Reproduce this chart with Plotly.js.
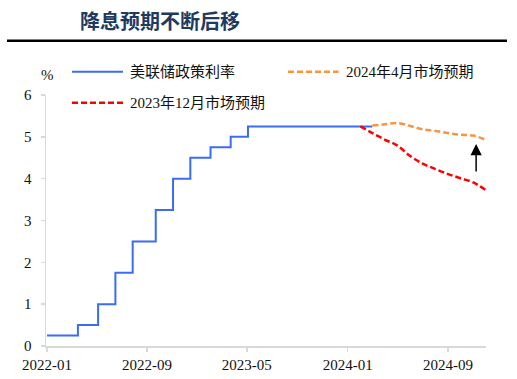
<!DOCTYPE html>
<html>
<head>
<meta charset="utf-8">
<script src="https://cdn.plot.ly/plotly-3.0.1.min.js"></script>
<style>html,body{margin:0;padding:0;background:#fff}#chart{width:517px;height:379px}</style>
</head>
<body>
<div id="chart"></div>
<script>
// Fed policy rate (step series)
const fedDates = ['2022-01-01','2022-03-17','2022-05-05','2022-06-16','2022-07-28','2022-09-22','2022-11-03','2022-12-15','2023-02-02','2023-03-23','2023-05-04','2024-03-01'];
const fedRate = [0.25,0.5,1.0,1.75,2.5,3.25,4.0,4.5,4.75,5.0,5.25,5.25];

// Market expectations as of Apr 2024
const apr24Dates = ['2024-03-01','2024-04-01','2024-05-01','2024-06-01','2024-07-01','2024-08-01','2024-09-01','2024-10-01','2024-11-01','2024-12-01'];
const apr24Exp = [5.27,5.30,5.33,5.26,5.18,5.14,5.09,5.05,5.03,4.93];

// Market expectations as of Dec 2023
const dec23Dates = ['2024-02-01','2024-03-01','2024-04-01','2024-05-01','2024-06-01','2024-07-01','2024-08-01','2024-09-01','2024-10-01','2024-11-01','2024-12-01'];
const dec23Exp = [5.25,5.09,4.93,4.79,4.54,4.36,4.23,4.11,4.01,3.91,3.73];

const seriesNames = ['美联储政策利率','2024年4月市场预期','2023年12月市场预期'];
const tickVals = ['2022-01-01','2022-09-01','2023-05-01','2024-01-01','2024-09-01'];
const tickText = ['2022-01','2022-09','2023-05','2024-01','2024-09'];
const titleText = '降息预期不断后移';

const serif = "'Liberation Serif','Times New Roman','Noto Sans CJK SC',serif";
const colors = ['#3b6cf4', '#fb9440', '#ff0000'];
const dashes = ['solid', '6px,3px', '6px,3px'];
const widths = [2, 2.5, 2.5];

const traces = [
  {x: fedDates, y: fedRate, name: seriesNames[0], type:'scatter', mode:'lines',
   line:{shape:'hv', color:colors[0], width:widths[0]}},
  {x: apr24Dates, y: apr24Exp, name: seriesNames[1], type:'scatter', mode:'lines',
   line:{shape:'spline', smoothing:1, color:colors[1], width:widths[1], dash:dashes[1]}},
  {x: dec23Dates, y: dec23Exp, name: seriesNames[2], type:'scatter', mode:'lines',
   line:{shape:'spline', smoothing:1, color:colors[2], width:widths[2], dash:dashes[2]}}
];

const L = 46, W = 440, T = 95, H = 250.7;
const px2paperX = p => (p - L) / W;
const px2paperY = p => (T + H - p) / H;

// manual legend (sample line + label), positions in pixels
const legendPos = [
  {x0: 72, x1: 123, y: 71.7, tx: 128},
  {x0: 288, x1: 338.5, y: 71.7, tx: 343.5},
  {x0: 72, x1: 123, y: 102.7, tx: 128}
];

const shapes = [
  {type:'line', xref:'paper', yref:'paper', x0: px2paperX(7), x1: px2paperX(507), y0: px2paperY(40.7), y1: px2paperY(40.7),
   line:{color:'#000', width:2.5}}
];
const annotations = [
  {text:'%', xref:'paper', yref:'paper', x: px2paperX(47.5), y: px2paperY(75), showarrow:false, xanchor:'center', yanchor:'middle',
   font:{family: serif, size:15, color:'#111'}},
  {text:'', xref:'x', yref:'y', x:'2024-11-08', y:4.83, ax:0, ay:29, axref:'pixel', ayref:'pixel',
   showarrow:true, arrowhead:2, arrowsize:1.5, arrowwidth:1.5, arrowcolor:'#000'}
];
legendPos.forEach((p, i) => {
  shapes.push({type:'line', xref:'paper', yref:'paper', x0: px2paperX(p.x0), x1: px2paperX(p.x1), y0: px2paperY(p.y), y1: px2paperY(p.y),
    line:{color: colors[i], width: widths[i], dash: dashes[i]}});
  annotations.push({text: seriesNames[i], xref:'paper', yref:'paper', x: px2paperX(p.tx), y: px2paperY(p.y + 0.5),
    xanchor:'left', yanchor:'middle', showarrow:false, font:{family: serif, size:15, color:'#111'}});
});

const layout = {
  width: 517, height: 379,
  margin: {l: L, r: 517 - L - W, t: T, b: 379 - T - H},
  paper_bgcolor: '#fff', plot_bgcolor: '#fff',
  showlegend: false,
  title: {text: titleText, xref:'container', yref:'container', x: 80/517, xanchor:'left', y: 1 - 21.5/379, yanchor:'middle',
    font:{family:"'Noto Sans CJK SC',sans-serif", size:20, color:'#1f3a60', weight:'bold'}},
  xaxis: {type:'date', range:['2021-12-29 12:00','2024-12-02'], tickvals: tickVals, ticktext: tickText,
    showgrid:false, zeroline:false, showline:true, linecolor:'#d9d9d9', linewidth:1.5,
    ticks:'outside', ticklen:4, tickcolor:'#d9d9d9', tickwidth:1.5,
    tickfont:{family: serif, size:15, color:'#111'}, fixedrange:true},
  yaxis: {range:[0,6], dtick:1, tick0:0, showgrid:false, zeroline:false, showline:true, linecolor:'#d9d9d9', linewidth:1.5,
    ticks:'outside', ticklen:4, tickcolor:'#d9d9d9', tickwidth:1.5, ticklabelstandoff:6,
    tickfont:{family: serif, size:15, color:'#111'}, fixedrange:true},
  shapes: shapes,
  annotations: annotations
};

Plotly.newPlot('chart', traces, layout, {displayModeBar:false, staticPlot:true});
</script>
</body>
</html>
